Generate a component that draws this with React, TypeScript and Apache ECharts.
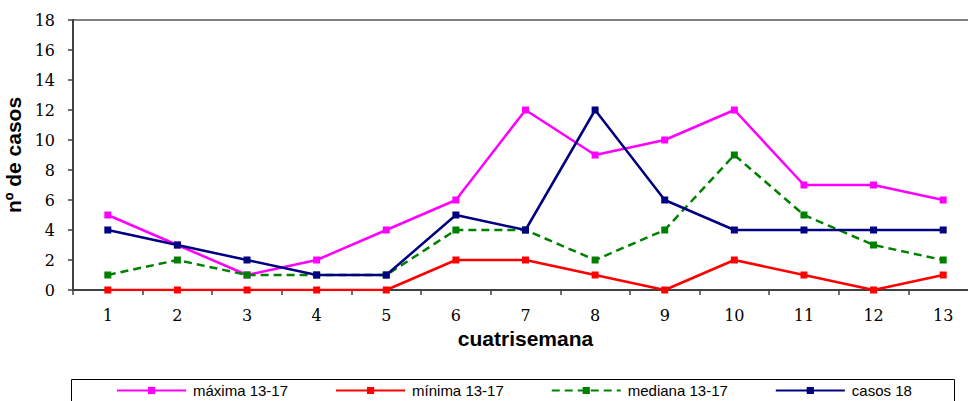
import React, { useEffect, useRef } from "react";
import * as echarts from "echarts";

const categories = ["1", "2", "3", "4", "5", "6", "7", "8", "9", "10", "11", "12", "13"];
const maxima = [5, 3, 1, 2, 4, 6, 12, 9, 10, 12, 7, 7, 6];
const minima = [0, 0, 0, 0, 0, 2, 2, 1, 0, 2, 1, 0, 1];
const mediana = [1, 2, 1, 1, 1, 4, 4, 2, 4, 9, 5, 3, 2];
const casos18 = [4, 3, 2, 1, 1, 5, 4, 12, 6, 4, 4, 4, 4];

const serifFont = "DejaVu Serif";
const sansFont = "Liberation Sans";

function lineSeries(name: string, data: number[], color: string, dashed = false) {
  return {
    name,
    type: "line",
    data,
    symbol: "rect",
    symbolSize: 7,
    showSymbol: true,
    lineStyle: { color, width: 2.5, type: dashed ? [8, 5] : "solid" },
    itemStyle: { color, borderWidth: 0 },
    emphasis: { disabled: true },
  };
}

export default function App() {
  const ref = useRef<HTMLDivElement>(null);

  useEffect(() => {
    if (!ref.current) return;
    const chart = echarts.init(ref.current, undefined, { renderer: "svg" });
    chart.setOption({
      animation: false,
      backgroundColor: "#ffffff",
      grid: {
        left: 73,
        top: 20,
        width: 905,
        height: 270,
        show: true,
        borderColor: "#808080",
        borderWidth: 2,
        outerBoundsMode: "none",
      },
      xAxis: {
        type: "category",
        data: categories,
        boundaryGap: true,
        name: "cuatrisemana",
        nameLocation: "middle",
        nameGap: 38,
        nameTextStyle: { fontFamily: sansFont, fontWeight: "bold", fontSize: 21, color: "#000" },
        axisLine: { lineStyle: { color: "#404040", width: 2 } },
        axisTick: { show: true, interval: 0, length: 5, lineStyle: { color: "#404040", width: 1.5 } },
        axisLabel: { interval: 0, margin: 17, fontFamily: serifFont, fontSize: 16, color: "#000" },
        splitLine: { show: false },
      },
      yAxis: {
        type: "value",
        min: 0,
        max: 18,
        interval: 2,
        name: "nº de casos",
        nameLocation: "middle",
        nameGap: 44,
        nameRotate: 90,
        nameTextStyle: { fontFamily: sansFont, fontWeight: "bold", fontSize: 21, color: "#000" },
        axisLine: { show: true, lineStyle: { color: "#404040", width: 2 } },
        axisTick: { show: true, length: 5, lineStyle: { color: "#404040", width: 1.5 } },
        axisLabel: { margin: 18, fontFamily: serifFont, fontSize: 16, color: "#000" },
        splitLine: { show: false },
      },
      legend: {
        left: 116,
        top: 383,
        padding: 0,
        itemWidth: 69,
        itemHeight: 9,
        itemGap: 47,
        textStyle: { fontFamily: sansFont, fontSize: 15, color: "#000", padding: [0, 0, 0, 2] },
        data: ["máxima 13-17", "mínima 13-17", "mediana 13-17", "casos 18"],
      },
      graphic: [
        {
          type: "rect",
          left: 69,
          top: 377,
          shape: { width: 883, height: 40 },
          style: { fill: "none", stroke: "#000", lineWidth: 1 },
          silent: true,
        },
      ],
      series: [
        lineSeries("máxima 13-17", maxima, "#FF00FF"),
        lineSeries("mínima 13-17", minima, "#FF0000"),
        lineSeries("mediana 13-17", mediana, "#008000", true),
        lineSeries("casos 18", casos18, "#000080"),
      ],
    });
    return () => chart.dispose();
  }, []);

  return (
    <div
      ref={ref}
      style={{ position: "fixed", left: 0, top: 0, width: 968, height: 401 }}
    />
  );
}
